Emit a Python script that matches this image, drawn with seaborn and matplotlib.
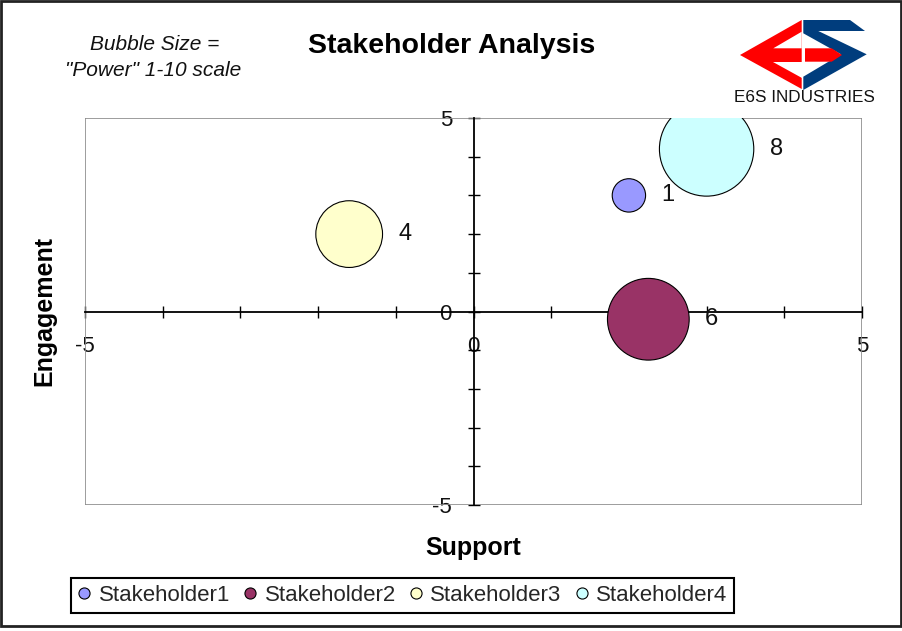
import matplotlib
matplotlib.use('Agg')
import pandas as pd
import seaborn as sns
import matplotlib.pyplot as plt
from matplotlib.lines import Line2D
from matplotlib.patches import Polygon, Rectangle
from matplotlib.ticker import MultipleLocator

# Data
stakeholders = ['Stakeholder1', 'Stakeholder2', 'Stakeholder3', 'Stakeholder4']
support = [2.0, 2.25, -1.6, 3.0]
engagement = [3.0, -0.2, 2.0, 4.2]
power = [1, 6, 4, 8]
colors = ['#9999FF', '#993366', '#FFFFCC', '#CCFFFF']

df = pd.DataFrame({'name': stakeholders, 'support': support,
                   'engagement': engagement, 'power': power})

sns.set_style('white')
plt.rcParams['font.family'] = ['Liberation Sans', 'DejaVu Sans']
plt.rcParams['axes.unicode_minus'] = False

W, H = 902, 631
fig = plt.figure(figsize=(W / 100, H / 100), dpi=100)


def fxy(px, py):
    # pixel position -> figure fraction
    return (px / W, 1 - py / H)


ax = fig.add_axes([85 / W, 1 - 505 / H, 777 / W, 387 / H])

# bubble area proportional to power
unit_s = 577
sns.scatterplot(data=df, x='support', y='engagement', hue='name',
                palette=colors, size='power', sizes=(unit_s * 1, unit_s * 8),
                size_norm=(1, 8), edgecolor='black', linewidth=0.8,
                legend=False, ax=ax, zorder=3)

for x, y, p in zip(support, engagement, power):
    r_pt = (unit_s * p) ** 0.5 / 2
    ax.annotate(str(p), (x, y), xytext=(r_pt + 11.5, 0),
                textcoords='offset points', ha='left', va='center',
                fontsize=17, color='#111111', zorder=4)

ax.set_xlim(-5, 5)
ax.set_ylim(-5, 5)
for side in ['top', 'right']:
    ax.spines[side].set_visible(False)
for side in ['left', 'bottom']:
    ax.spines[side].set_position(('data', 0))
    ax.spines[side].set_color('black')
    ax.spines[side].set_linewidth(1.3)
    ax.spines[side].set_zorder(2)
ax.add_patch(Rectangle((0, 0), 1, 1, transform=ax.transAxes, fill=False,
                       edgecolor='#8c8c8c', linewidth=1.2, zorder=1))

ax.xaxis.set_major_locator(MultipleLocator(5))
ax.yaxis.set_major_locator(MultipleLocator(5))
ax.xaxis.set_minor_locator(MultipleLocator(1))
ax.yaxis.set_minor_locator(MultipleLocator(1))
ax.tick_params(which='both', direction='inout', length=8, width=1,
               color='black', bottom=True, left=True, top=False, right=False)
ax.tick_params(axis='x', which='major', labelsize=16, pad=14,
               labelcolor='#111111')
ax.tick_params(axis='y', which='major', labelsize=16, pad=11.5,
               labelcolor='#111111')

ax.set_xlabel('Support', fontsize=18, fontweight='bold', va='center',
              color='black')
ax.xaxis.set_label_coords(0.5, (505 - 548) / 387)
ax.set_ylabel('Engagement', fontsize=18, fontweight='bold', va='center',
              color='black')
ax.yaxis.set_label_coords((44 - 85) / 777, 0.5)

fig.text(*fxy(452, 46), 'Stakeholder Analysis', fontsize=20.5,
         fontweight='bold', ha='center', va='center', color='black')
fig.text(*fxy(155, 45), 'Bubble Size =', fontsize=15, style='italic',
         ha='center', va='center', color='#111111')
fig.text(*fxy(153, 71), '"Power" 1-10 scale', fontsize=15, style='italic',
         ha='center', va='center', color='#111111')

# logo
red = '#FF0000'
blue = '#003D7D'
logo = [
    ([(740, 55), (801.7, 20), (801.7, 89)], red),
    ([(773.3, 48.3), (801.7, 31.7), (801.7, 48.3)], 'white'),
    ([(773.3, 61.7), (801.7, 61.7), (801.7, 78.3)], 'white'),
    ([(803.3, 20), (850, 20), (865, 31), (818.3, 31), (866.7, 54.3),
      (803.3, 90), (803.3, 76.7), (841, 54.3), (803.3, 33.3)], blue),
    ([(805, 48.3), (831.7, 48.3), (842, 55), (831.7, 61.7), (805, 61.7)], red),
]
for pts, c in logo:
    fig.patches.append(Polygon([fxy(*p) for p in pts], closed=True,
                               transform=fig.transFigure, facecolor=c,
                               edgecolor='none'))
fig.text(*fxy(804, 97), 'E6S INDUSTRIES', fontsize=12.3, ha='center',
         va='center', color='#111111')

# legend
handles = [Line2D([], [], marker='o', linestyle='none', markersize=8,
                  markerfacecolor=c, markeredgecolor='black',
                  markeredgewidth=0.8) for c in colors]
leg = fig.legend(handles, stakeholders, loc='center',
                 bbox_to_anchor=fxy(402.5, 595.5), ncol=4, fontsize=16,
                 frameon=True, fancybox=False, edgecolor='black',
                 framealpha=1, handlelength=0.6, handletextpad=0.35,
                 columnspacing=0.6, borderpad=0.3)
leg.get_frame().set_linewidth(1.5)

# outer border
x0, y0 = fxy(1, 626)
x1, y1 = fxy(901, 1)
fig.patches.append(Rectangle((x0, y0), x1 - x0, y1 - y0,
                             transform=fig.transFigure, fill=False,
                             edgecolor='#222222', linewidth=2))

fig.savefig('out.png', dpi=100)
